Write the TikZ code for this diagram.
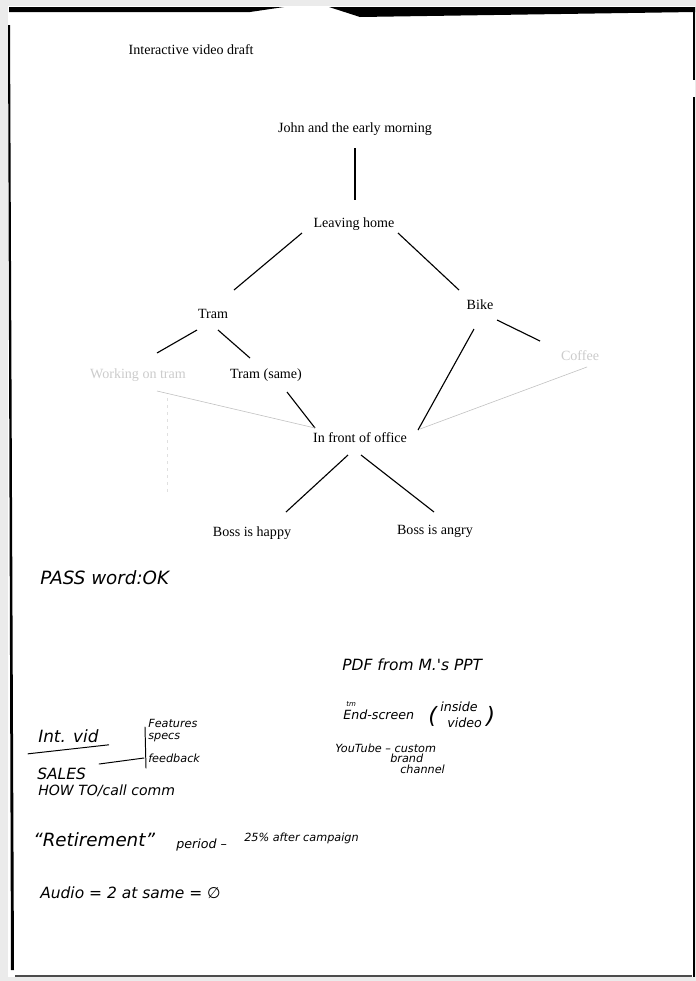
\documentclass[tikz,border=0pt]{standalone}
\usepackage{fontspec}
\setmainfont{Liberation Serif}
\newfontfamily\handfont{DejaVu Sans}
\usetikzlibrary{calc}

\tikzset{
  printed/.style={font=\fontsize{10}{12}\selectfont, inner sep=1pt},
  faded/.style={printed, text=black!20},
  branch/.style={line width=0.8pt},
  fadedbranch/.style={line width=0.4pt, draw=black!25},
  scribble/.style={font=\handfont\itshape\fontsize{#1}{#1}\selectfont, anchor=west, inner sep=0pt},
  scribble/.default=10,
  stroke/.style={line width=0.7pt, line cap=round},
}

\begin{document}
\begin{tikzpicture}[x=0.025cm, y=-0.025cm]
  % scanned sheet
  \fill[black!8] (0,0) rectangle (696,981);
  \fill[white] (8,6) rectangle (695,977);
  \fill[black] (9,7) -- (284,7) -- (250,12) -- (9,12) -- cycle;
  \fill[black] (329,7) -- (695,7) -- (695,12) -- (360,17) -- cycle;
  \fill[black] (8,25) -- (10,25) -- (14,970) -- (11,970) -- cycle;
  \draw[line width=1.2pt] (694,10) -- (694,80) (694,97) -- (694,977);
  \draw[line width=1pt, black!70] (15,976) -- (692,976);
  \useasboundingbox (0,0) rectangle (696,981);

  % printed tree
  \node[printed, anchor=west] (title) at (127,50) {Interactive video draft};
  \node[printed] (john) at (355,129) {John and the early morning};
  \node[printed] (home) at (354,224) {Leaving home};
  \node[printed] (tram) at (213,314) {Tram};
  \node[printed] (bike) at (480,305) {Bike};
  \node[faded] (work) at (138,375) {Working on tram};
  \node[printed] (same) at (266,375) {Tram (same)};
  \node[faded] (coffee) at (580,356) {Coffee};
  \node[printed] (office) at (360,438) {In front of office};
  \node[printed] (happy) at (252,533) {Boss is happy};
  \node[printed] (angry) at (435,531) {Boss is angry};

  \draw[branch] ($(john)+(0,19)$) -- ($(home)+(1,-24)$);
  \draw[branch] ($(home)+(-52,9)$) -- ($(tram)+(21,-24)$);
  \draw[branch] ($(home)+(44,9)$) -- ($(bike)+(-21,-15)$);
  \draw[branch] ($(tram)+(-16,16)$) -- ($(work)+(19,-22)$);
  \draw[branch] ($(tram)+(5,16)$) -- ($(same)+(-16,-17)$);
  \draw[branch] ($(bike)+(17,15)$) -- ($(coffee)+(-40,-15)$);
  \draw[branch] ($(bike)+(-6,24)$) -- ($(office)+(58,-8)$);
  \draw[branch] ($(same)+(21,17)$) -- ($(office)+(-45,-10)$);
  \draw[fadedbranch] ($(work)+(19,16)$) -- ($(office)+(-45,-10)$);
  \draw[fadedbranch] ($(coffee)+(7,11)$) -- ($(office)+(60,-9)$);
  \draw[fadedbranch, draw=black!12, dash pattern=on 2pt off 3pt] ($(work)+(29,23)$) -- ($(work)+(29,117)$);
  \draw[branch] ($(office)+(-12,17)$) -- ($(happy)+(34,-21)$);
  \draw[branch] ($(office)+(1,17)$) -- ($(angry)+(-1,-19)$);

  % handwritten notes
  \node[scribble=13] (pass) at (40,578) {PASS word:OK};

  \node[scribble=11] (pdf) at (342,665) {PDF from M.'s PPT};
  \node[scribble=9] (endscr) at (343,715) {End-screen};
  \node[scribble=5] (tm) at (346,704) {tm};
  \node[scribble=16] (lpar) at (428,716) {(};
  \node[scribble=9] (inside) at (440,707) {inside};
  \node[scribble=9] (video) at (447,723) {video};
  \node[scribble=16] (rpar) at (486,716) {)};
  \node[scribble=8] (yt) at (335,748) {YouTube – custom};
  \node[scribble=8] (brand) at (390,758) {brand};
  \node[scribble=8] (chan) at (400,769) {channel};

  \node[scribble=12] (intvid) at (38,736) {Int. vid};
  \node[scribble=8] (feat) at (148,723) {Features};
  \node[scribble=8] (specs) at (148,738) {specs};
  \node[scribble=8] (fback) at (148,758) {feedback};
  \node[scribble=11] (sales) at (37,774) {SALES};
  \node[scribble=10] (howto) at (38,791) {HOW TO/call comm};
  \draw[stroke] ($(intvid.south west)+(-10,11)$) -- ($(intvid.south east)+(10,2)$);
  \draw[stroke] ($(feat.west)+(-3,4)$) -- ($(fback.west)+(-2,10)$);
  \draw[stroke] ($(sales.east)+(13,-10)$) -- ($(fback.west)+(-4,0)$);

  \node[scribble=13] (retire) at (33,840) {“Retirement”};
  \node[scribble=9] (period) at (176,845) {period –};
  \node[scribble=8] (after) at (244,838) {25\% after campaign};
  \node[scribble=11] (audio) at (40,893) {Audio = 2 at same = ∅};
\end{tikzpicture}
\end{document}
